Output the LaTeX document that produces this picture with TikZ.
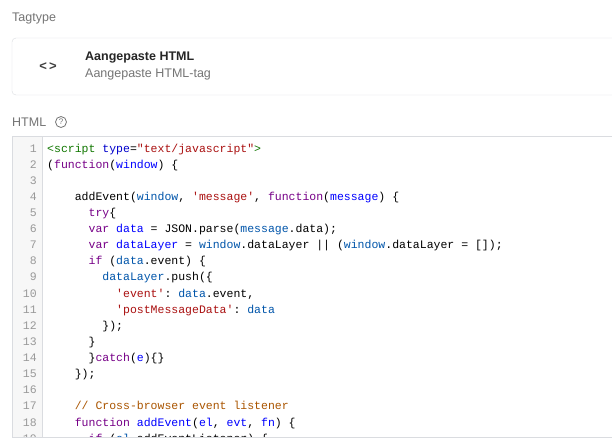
\documentclass[tikz,border=0pt]{standalone}
\usepackage{fontspec}
\setmainfont{Liberation Sans}
\setmonofont{Liberation Mono}
\definecolor{kw}{HTML}{770088}
\definecolor{st}{HTML}{AA1111}
\definecolor{vb}{HTML}{0055AA}
\definecolor{df}{HTML}{0000FF}
\definecolor{tg}{HTML}{117700}
\definecolor{at}{HTML}{0000CC}
\definecolor{cm}{HTML}{AA5500}
\definecolor{brd}{HTML}{DADCE0}
\definecolor{gut}{HTML}{F7F7F7}
\definecolor{lbl}{HTML}{757575}
\newcommand{\K}[1]{\textcolor{kw}{#1}}
\newcommand{\Sx}[1]{\textcolor{st}{#1}}
\newcommand{\V}[1]{\textcolor{vb}{#1}}
\newcommand{\D}[1]{\textcolor{df}{#1}}
\tikzset{
  lbltext/.style={anchor=west,inner sep=0,font=\fontsize{12.5}{14}\selectfont,text=lbl},
  codeline/.style={anchor=base west,inner sep=0,font=\ttfamily\fontsize{11.5}{13}\selectfont},
  lnum/.style={anchor=base east,inner sep=0,font=\ttfamily\fontsize{11.5}{13}\selectfont,text=black!40}
}
\begin{document}
\begin{tikzpicture}[x=1pt,y=-1pt]
\useasboundingbox[fill=white] (0,0) rectangle (612,440);
\node[lbltext] (tt) at (12,18) {Tagtype};
\draw[brd,rounded corners=4] (12,38) rectangle (630,95);
\node[anchor=center,inner sep=0,font=\bfseries\fontsize{13}{14}\selectfont,text=black!75] (ic) at (48,67) {<\,>};
\node[anchor=west,inner sep=0,font=\bfseries\fontsize{12.5}{14}\selectfont,text=black!85] (t1) at (85,58) {Aangepaste HTML};
\node[anchor=west,inner sep=0,font=\fontsize{12.5}{14}\selectfont,text=lbl] (t2) at (85,74) {Aangepaste HTML-tag};
\node[lbltext] (ht) at (12,122) {HTML};
\node[draw=lbl,circle,line width=0.8pt,minimum size=11pt,inner sep=0,font=\fontsize{8}{8}\selectfont,text=lbl] (q) at (61,122) {?};
% code box
\fill[gut] (12,136) rectangle (42,437);
\draw[brd] (42,136) -- (42,437);
\draw[brd] (630,136) -- (12,136) -- (12,437) -- (630,437);
\begin{scope}
\clip (13,137) rectangle (612,436);
\foreach \n in {1,...,19} { \node[lnum] (n\n) at (37,{148+(\n-1)*16.12+4}) {\n}; }
\def\cw{6.9}
\newcommand{\cl}[3]{\node[codeline] (c#1) at ({47+#2*\cw},{148+(#1-1)*16.12+4}) {#3};}
\cl{1}{0}{\textcolor{tg}{<script} \textcolor{at}{type}=\Sx{"text/javascript"}\textcolor{tg}{>}}
\cl{2}{0}{(\K{function}(\D{window}) \{}
\cl{4}{4}{addEvent(\V{window}, \Sx{'message'}, \K{function}(\D{message}) \{}
\cl{5}{6}{\K{try}\{}
\cl{6}{6}{\K{var} \D{data} = JSON.parse(\V{message}.data);}
\cl{7}{6}{\K{var} \D{dataLayer} = \V{window}.dataLayer || (\V{window}.dataLayer = []);}
\cl{8}{6}{\K{if} (\V{data}.event) \{}
\cl{9}{8}{\V{dataLayer}.push(\{}
\cl{10}{10}{\Sx{'event'}: \V{data}.event,}
\cl{11}{10}{\Sx{'postMessageData'}: \V{data}}
\cl{12}{8}{\});}
\cl{13}{6}{\}}
\cl{14}{6}{\}\K{catch}(\D{e})\{\}}
\cl{15}{4}{\});}
\cl{17}{4}{\textcolor{cm}{// Cross-browser event listener}}
\cl{18}{4}{\K{function} \D{addEvent}(\D{el}, \D{evt}, \D{fn}) \{}
\cl{19}{6}{\K{if} (\V{el}.addEventListener) \{}
\end{scope}
\end{tikzpicture}
\end{document}
